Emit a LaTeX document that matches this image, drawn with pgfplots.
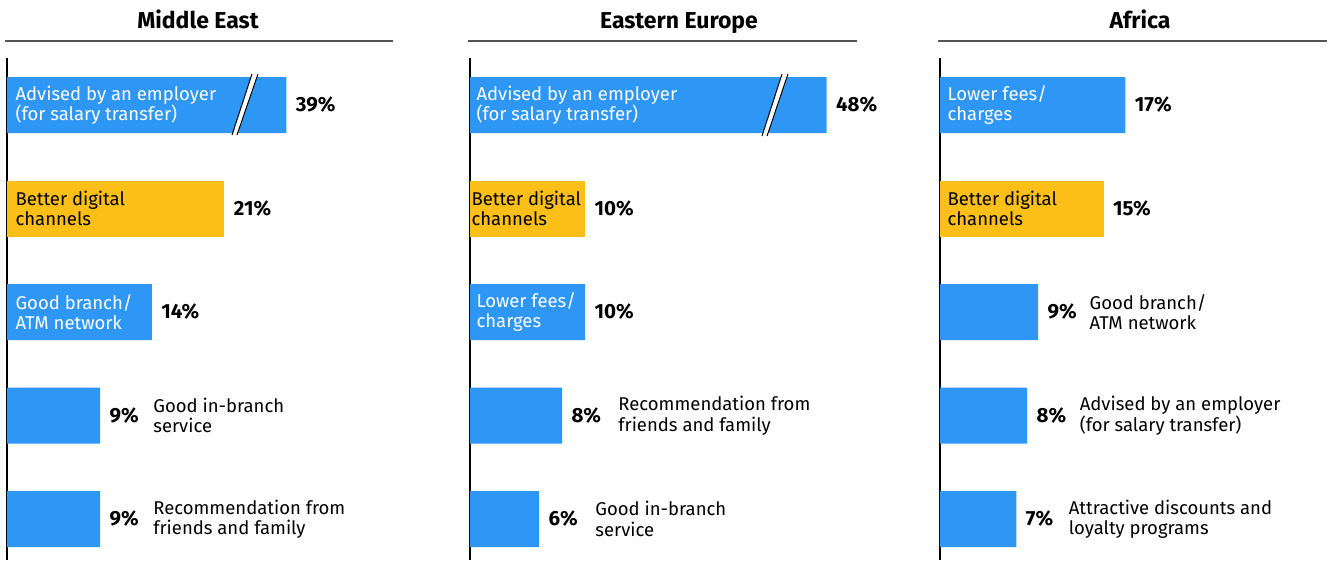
\documentclass[border=0pt]{standalone}
\usepackage{pgfplots}
\pgfplotsset{compat=1.18}
\usepackage{fontspec}
\setmainfont{Fira Sans}
\definecolor{barblue}{HTML}{2E96F5}
\definecolor{baryellow}{HTML}{FBBF18}
\definecolor{rulegray}{HTML}{555555}
\newcommand{\lbl}{\fontsize{18.5}{20.5}\selectfont}
\pgfplotsset{
  panel/.style={
    y=103.5pt, y dir=reverse,
    ymin=0.546, ymax=5.396, xmin=0,
    hide x axis,
    axis y line*=left,
    y axis line style={-, black, line width=1.2pt},
    ytick=\empty,
    clip=false,
    anchor=south west,
  },
  bars/.style={
    xbar, bar width=56pt, bar shift=0pt, draw=none, fill=#1,
    point meta=explicit symbolic,
    nodes near coords={\pgfplotspointmeta\%},
    nodes near coords align={horizontal},
    every node near coord/.append style={anchor=west, xshift=6pt, font=\fontsize{20.5}{22}\selectfont\bfseries, text=black},
  },
}
\tikzset{
  inlbl/.style={anchor=west, align=left, font=\lbl, text=white},
  outlbl/.style={anchor=west, align=left, font=\lbl, text=black},
  ttl/.style={anchor=base, font=\fontsize{23}{26}\selectfont\bfseries},
}
\begin{document}
\begin{tikzpicture}
\useasboundingbox (0,0) rectangle (1330pt,560pt);
% titles and rules
\node[ttl] at (198pt,531pt) {Middle East};
\node[ttl] at (679pt,531pt) {Eastern Europe};
\node[ttl] at (1140pt,531pt) {Africa};
\draw[rulegray, line width=1.5pt] (5pt,519pt) -- (393pt,519pt);
\draw[rulegray, line width=1.5pt] (468pt,519pt) -- (857pt,519pt);
\draw[rulegray, line width=1.5pt] (938pt,519pt) -- (1327pt,519pt);

% Middle East
\begin{axis}[panel, x=10.35pt, xmax=37, at={(7pt,0pt)}]
\addplot[bars=barblue] table[x=x, y=y, meta=v] {
y x v
1 27 39
3 14 14
4 9 9
5 9 9
};
\addplot[bars=baryellow] table[x=x, y=y, meta=v] {
y x v
2 21 21
};
\fill[white] (axis cs:21.74,1.29) -- (axis cs:23.67,0.70) -- (axis cs:24.25,0.70) -- (axis cs:22.22,1.29) -- cycle;
\draw[black, line width=1pt] (axis cs:21.74,1.29) -- (axis cs:23.67,0.70);
\draw[black, line width=1pt] (axis cs:22.22,1.29) -- (axis cs:24.25,0.70);
\node[inlbl, xshift=5pt] at (axis cs:0,1) {Advised by an employer\\(for salary transfer)};
\node[inlbl, xshift=5pt, text=black] at (axis cs:0,2) {Better digital\\channels};
\node[inlbl, xshift=5pt] at (axis cs:0,3) {Good branch/\\ATM network};
\node[outlbl] at (axis cs:13.8,4) {Good in-branch\\service};
\node[outlbl] at (axis cs:13.8,5) {Recommendation from\\friends and family};
\end{axis}

% Eastern Europe
\begin{axis}[panel, x=11.5pt, xmax=33, at={(470pt,0pt)}]
\addplot[bars=barblue] table[x=x, y=y, meta=v] {
y x v
1 31 48
3 10 10
4 8 8
5 6 6
};
\addplot[bars=baryellow] table[x=x, y=y, meta=v] {
y x v
2 10 10
};
\fill[white] (axis cs:25.39,1.30) -- (axis cs:27.13,0.70) -- (axis cs:27.65,0.70) -- (axis cs:25.83,1.30) -- cycle;
\draw[black, line width=1pt] (axis cs:25.39,1.30) -- (axis cs:27.13,0.70);
\draw[black, line width=1pt] (axis cs:25.83,1.30) -- (axis cs:27.65,0.70);
\node[inlbl, xshift=3pt] at (axis cs:0,1) {Advised by an employer\\(for salary transfer)};
\node[inlbl, xshift=-2pt, text=black] at (axis cs:0,2) {Better digital\\channels};
\node[inlbl, xshift=3pt] at (axis cs:0,3) {Lower fees/\\charges};
\node[outlbl] at (axis cs:12.6,4) {Recommendation from\\friends and family};
\node[outlbl] at (axis cs:10.6,5) {Good in-branch\\service};
\end{axis}

% Africa
\begin{axis}[panel, x=10.9pt, xmax=35, at={(940pt,0pt)}]
\addplot[bars=barblue] table[x=x, y=y, meta=v] {
y x v
1 17 17
3 9 9
4 8 8
5 7 7
};
\addplot[bars=baryellow] table[x=x, y=y, meta=v] {
y x v
2 15 15
};
\node[inlbl, xshift=4pt] at (axis cs:0,1) {Lower fees/\\charges};
\node[inlbl, xshift=4pt, text=black] at (axis cs:0,2) {Better digital\\channels};
\node[outlbl] at (axis cs:13.4,3) {Good branch/\\ATM network};
\node[outlbl] at (axis cs:12.5,4) {Advised by an employer\\(for salary transfer)};
\node[outlbl] at (axis cs:11.5,5) {Attractive discounts and\\loyalty programs};
\end{axis}
\end{tikzpicture}
\end{document}
